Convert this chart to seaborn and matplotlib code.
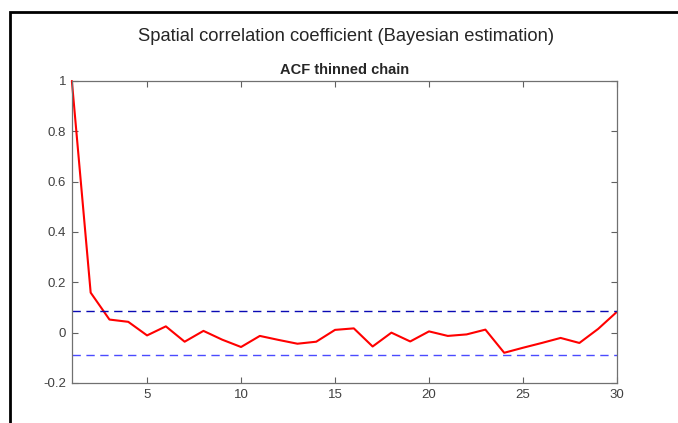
import numpy as np
import pandas as pd
import seaborn as sns
import matplotlib.pyplot as plt
from matplotlib.patches import Rectangle

# autocorrelation of the thinned chain, lags 1..30
lags = list(range(1, 31))
acf = [1.0, 0.159, 0.052, 0.043, -0.011, 0.025, -0.036, 0.007, -0.028, -0.057,
       -0.013, -0.029, -0.044, -0.036, 0.011, 0.017, -0.055, 0.0, -0.035, 0.005,
       -0.013, -0.007, 0.012, -0.080, -0.060, -0.041, -0.021, -0.041, 0.015, 0.083]
upper_bound = 0.087
lower_bound = -0.087

x_ticks = [5, 10, 15, 20, 25, 30]
y_ticks = [-0.2, 0, 0.2, 0.4, 0.6, 0.8, 1]
y_labels = ["-0.2", "0", "0.2", "0.4", "0.6", "0.8", "1"]

sns.set_style("white")
plt.rcParams['font.family'] = ['Liberation Sans', 'DejaVu Sans']

df = pd.DataFrame({"lag": lags, "acf": acf})

fig = plt.figure(figsize=(6.78, 4.23), dpi=100)
ax = fig.add_axes([0.106, 0.0946, 0.804, 0.714])

sns.lineplot(data=df, x="lag", y="acf", color="red", linewidth=1.5, ax=ax,
             clip_on=False)
ax.axhline(upper_bound, color="#0a0ab4", linestyle=(0, (6, 4)), linewidth=1.0)
ax.axhline(lower_bound, color="#4b4bff", linestyle=(0, (6, 4)), linewidth=1.0)

ax.set_xlim(1, 30)
ax.set_ylim(-0.2, 1)
ax.set_xticks(x_ticks)
ax.set_xticklabels([str(t) for t in x_ticks])
ax.set_yticks(y_ticks)
ax.set_yticklabels(y_labels)
ax.set_xlabel("")
ax.set_ylabel("")
ax.tick_params(direction="in", length=4, width=0.8, colors="#606060",
               labelcolor="#404040", labelsize=9.5, top=True, right=True,
               bottom=True, left=True, pad=4)
for s in ax.spines.values():
    s.set_color("#707070")
    s.set_linewidth(0.9)

ax.set_title("ACF thinned chain", fontsize=10.5, fontweight="bold", pad=5)
fig.text(0.511, 0.913, "Spatial correlation coefficient (Bayesian estimation)",
         ha="center", va="center", fontsize=13.2, color="#262626")

# black frame around the figure window
fig.patches.append(Rectangle((10 / 678, -0.05), 1.1, 1 - 12 / 423 + 0.05,
                             transform=fig.transFigure, fill=False,
                             edgecolor="black", linewidth=2))

fig.savefig("out.png", dpi=100)
